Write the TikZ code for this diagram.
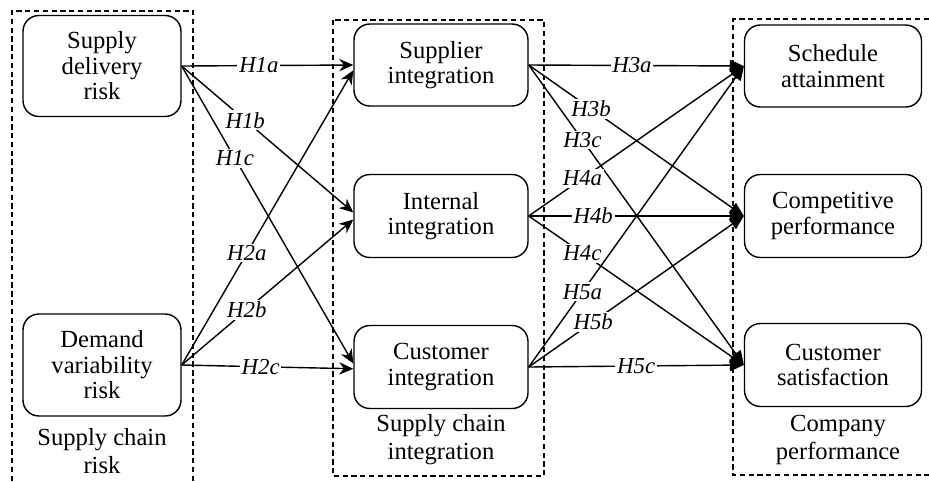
\documentclass[tikz,border=0pt]{standalone}
\usepackage{fontspec}
\setmainfont{Liberation Serif}
\usepackage{tikz}
\usetikzlibrary{positioning}
\usetikzlibrary{arrows.meta}
\tikzset{
  hyp/.style={fill=white, inner sep=1pt, font=\itshape\fontsize{13}{13}\selectfont},
  grouplabel/.style={align=center, font=\fontsize{14}{16}\selectfont}
}

\begin{document}
\begin{tikzpicture}[x=0.02cm, y=-0.02cm]
	\useasboundingbox (0,0) rectangle (929,481);

	% group frames
	\begin{scope}[semithick, dash pattern=on 3pt off 2pt]
	    \draw (12,481) -- (12,11) -- (193,11) -- (193,481);
	    \draw (333,20) rectangle (544,476);
	    \draw (929,19) -- (733,19) -- (733,475) -- (929,475);
	\end{scope}

	\begin{scope}[every node/.style={draw, thick, rounded corners=9pt, align=center,
	              font=\fontsize{14}{14.5}\selectfont}]
	    \node (SDR) [minimum width=3.16cm, minimum height=2.02cm] at (102,66) {Supply\\delivery\\risk};
	    \node (DVR) [minimum width=3.16cm, minimum height=2.04cm] at (102,365) {Demand\\variability\\risk};
	    \node (SI) [minimum width=3.48cm, minimum height=1.64cm] at (441,65) {Supplier\\integration};
	    \node (II) [minimum width=3.48cm, minimum height=1.66cm] at (441,216) {Internal\\integration};
	    \node (CI) [minimum width=3.48cm, minimum height=1.66cm] at (441,367) {Customer\\integration};
	    \node (SA) [minimum width=3.54cm, minimum height=1.64cm] at (833,66) {Schedule\\attainment};
	    \node (CP) [minimum width=3.54cm, minimum height=1.66cm] at (833,216) {Competitive\\performance};
	    \node (CS) [minimum width=3.54cm, minimum height=1.66cm] at (833,365) {Customer\\satisfaction};
	\end{scope}

	\node (riskLbl) [grouplabel] at (102,451) {Supply chain\\risk};
	\node (sciLbl) [grouplabel] at (441,440) {Supply chain\\integration};
	\node (perfLbl) [grouplabel] at (838,440) {Company\\performance};

	\begin{scope}[>={Stealth[length=8pt,width=7pt]},
	              every edge/.style={draw=black, thick}]
    	\path [->] (SDR.east) edge node[hyp, pos=0.45] {H1a} (SI.west);
    	\path [->] (SDR.east) edge node[hyp, pos=0.37] {H1b} ([yshift=2pt]II.west);
    	\path [->] (SDR.east) edge node[hyp, pos=0.31] {H1c} ([yshift=2pt]CI.west);
    	\path [->] (DVR.east) edge node[hyp, pos=0.38] {H2a} ([yshift=-3pt]SI.west);
    	\path [->] (DVR.east) edge node[hyp, pos=0.38] {H2b} ([yshift=-2pt]II.west);
    	\path [->] (DVR.east) edge node[hyp, pos=0.46] {H2c} ([yshift=-1pt]CI.west);
	\end{scope}

	\begin{scope}[>={Triangle[length=8pt,width=7pt]},
	              every edge/.style={draw=black, thick}]
    	\path [->] (SI.east) edge node[hyp, pos=0.48] {H3a} (SA.west);
    	\path [->] (SI.east) edge node[hyp, pos=0.29] {H3b} (CP.west);
    	\path [->] (SI.east) edge node[hyp, pos=0.25] {H3c} (CS.west);
    	\path [->] (II.east) edge node[hyp, pos=0.25] {H4a} (SA.west);
    	\path [->] (II.east) edge node[hyp, pos=0.30] {H4b} (CP.west);
    	\path [->] (II.east) edge node[hyp, pos=0.25] {H4c} (CS.west);
    	\path [->] (CI.east) edge node[hyp, pos=0.25] {H5a} (SA.west);
    	\path [->] (CI.east) edge node[hyp, pos=0.30] {H5b} (CP.west);
    	\path [->] (CI.east) edge node[hyp, pos=0.50] {H5c} (CS.west);
	\end{scope}
\end{tikzpicture}
\end{document}
